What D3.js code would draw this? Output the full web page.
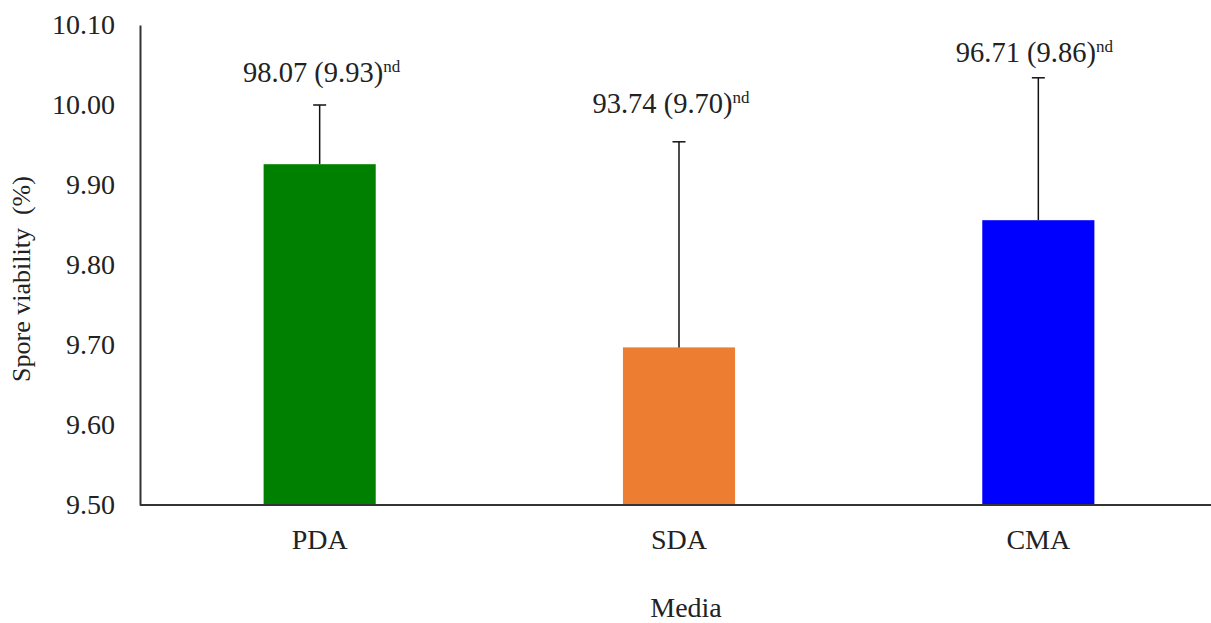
<!DOCTYPE html>
<html>
<head>
<meta charset="utf-8">
<script src="https://cdn.jsdelivr.net/npm/d3@7"></script>
<style>
  html, body { margin: 0; padding: 0; background: #fff; }
  svg { display: block; }
  text { font-family: "Liberation Serif", "Times New Roman", serif; fill: #222; }
</style>
</head>
<body>
<svg id="chart" width="1211" height="623"></svg>
<script>
// ---- data ----
const categories = ["PDA", "SDA", "CMA"];
const means = [9.926, 9.697, 9.856];
const errors = [0.074, 0.257, 0.178];
const labelMain = ["98.07 (9.93)", "93.74 (9.70)", "96.71 (9.86)"];
const labelSup = ["nd", "nd", "nd"];
const colors = ["#008000", "#ED7D31", "#0000FF"];
const yTicks = [9.50, 9.60, 9.70, 9.80, 9.90, 10.00, 10.10];
const yTitle = "Spore viability  (%)";
const xTitle = "Media";

// ---- layout ----
const svg = d3.select("#chart");
const mLeft = 140, mRight = 1218, mTop = 25, mBottom = 505;

const x = d3.scaleBand().domain(categories).range([mLeft, mRight])
  .paddingInner(0.688).paddingOuter(0.344);
const y = d3.scaleLinear().domain([9.5, 10.1]).range([mBottom, mTop]);

// bars
svg.append("g").selectAll("rect").data(categories).join("rect")
  .attr("x", d => x(d))
  .attr("width", x.bandwidth())
  .attr("y", (d, i) => y(means[i]))
  .attr("height", (d, i) => y(9.5) - y(means[i]))
  .attr("fill", (d, i) => colors[i]);

// error bars (upper only)
const eg = svg.append("g").attr("stroke", "#111").attr("stroke-width", 1.5);
categories.forEach((c, i) => {
  const cx = x(c) + x.bandwidth() / 2;
  eg.append("line").attr("x1", cx).attr("x2", cx)
    .attr("y1", y(means[i])).attr("y2", y(means[i] + errors[i]));
  eg.append("line").attr("x1", cx - 6.5).attr("x2", cx + 6.5)
    .attr("y1", y(means[i] + errors[i])).attr("y2", y(means[i] + errors[i]));
});

// value labels
const labelOffsets = [23, 29, 16];
const labelShift = [2, -8, -4];
categories.forEach((c, i) => {
  const cx = x(c) + x.bandwidth() / 2 + labelShift[i];
  const t = svg.append("text")
    .attr("x", cx)
    .attr("y", y(means[i] + errors[i]) - labelOffsets[i])
    .attr("text-anchor", "middle")
    .attr("font-size", 28.5);
  t.append("tspan").text(labelMain[i]);
  t.append("tspan").attr("font-size", 17).attr("dy", -10).text(labelSup[i]);
});

// y axis
const yAxis = d3.axisLeft(y).tickValues(yTicks).tickFormat(d3.format(".2f")).tickSize(0).tickPadding(25);
const ya = svg.append("g").attr("transform", `translate(${mLeft},0)`).call(yAxis);
ya.select(".domain").attr("stroke", "#333").attr("stroke-width", 2);
ya.selectAll("text").attr("font-size", 28).attr("font-family", "Liberation Serif").attr("fill", "#222");

// x axis
const xAxis = d3.axisBottom(x).tickSize(0).tickPadding(24);
const xa = svg.append("g").attr("transform", `translate(0,${mBottom})`).call(xAxis);
xa.select(".domain").attr("stroke", "#333").attr("stroke-width", 2).attr("d", `M${mLeft},0H1211`);
xa.selectAll("text").attr("font-size", 28).attr("font-family", "Liberation Serif").attr("fill", "#222");

// titles
svg.append("text")
  .attr("transform", `translate(30,279) rotate(-90)`)
  .attr("text-anchor", "middle")
  .attr("font-size", 26)
  .style("white-space", "pre")
  .text(yTitle);
svg.append("text")
  .attr("x", 686).attr("y", 617)
  .attr("text-anchor", "middle")
  .attr("font-size", 28)
  .text(xTitle);
</script>
</body>
</html>
